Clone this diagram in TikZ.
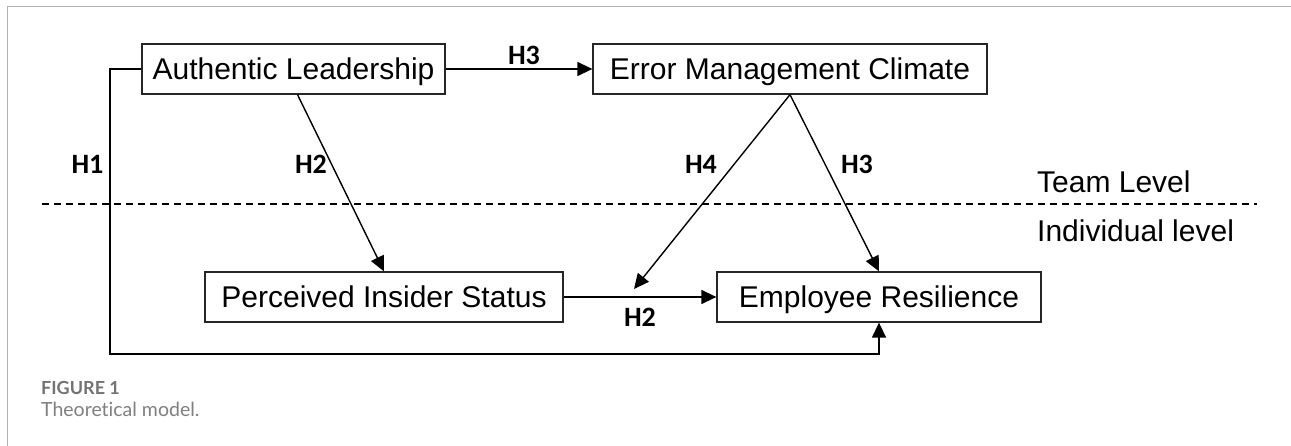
\documentclass[tikz,border=0pt]{standalone}
\usepackage{fontspec}
\setmainfont{Liberation Sans}
\newfontfamily\hfont{Carlito}
\newfontfamily\capfont[Ligatures=NoCommon]{Lato}
\usetikzlibrary{arrows.meta}
\begin{document}
\begin{tikzpicture}[x=1pt,y=-1pt,
  box/.style={draw=black!85, line width=1.3pt, minimum height=50pt, inner sep=0pt, text height=21.5pt, text depth=0pt, font=\fontsize{30}{36}\selectfont},
  arr/.style={line width=1.4pt, -{Triangle[length=15pt,width=14pt]}},
  hlab/.style={font=\hfont\bfseries\fontsize{28}{33}\selectfont, inner sep=0pt},
  lvl/.style={font=\fontsize{30}{36}\selectfont, inner sep=0pt, anchor=base west},
  frame/.style={draw=black!30, line width=1pt}]
\useasboundingbox (0,0) rectangle (1291,446);
\fill[white] (0,0) rectangle (1291,446);
\draw[frame] (7,446) -- (7,7) -- (1291,7);

\node[box, minimum width=303pt] (al) at (293.5,69) {Authentic Leadership};
\node[box, minimum width=394pt] (emc) at (790,69) {Error Management Climate};
\node[box, minimum width=358pt] (pis) at (384,297) {Perceived Insider Status};
\node[box, minimum width=324pt] (er) at (879,297) {Employee Resilience};

\coordinate (h1c) at (110,354);
\coordinate (m) at (634,289);
\coordinate (dl) at (42,204);
\coordinate (dr) at (1257,204);

\draw[line width=1.3pt, dash pattern=on 7pt off 5pt] (dl) -- (dr);

\draw[arr] (al.east) -- (emc.west);
\draw[arr] ([xshift=4pt]al.south) -- (pis.north);
\draw[arr] (emc.south) -- (er.north);
\draw[arr] (emc.south) -- (m);
\draw[arr] (pis.east) -- (er.west);
\draw[arr] (al.west) -| (h1c) -| (er.south);

\node[hlab] (l1) at (87.5,164) {H1};
\node[hlab] (l2) at (311,164) {H2};
\node[hlab] (l3) at (524,55) {H3};
\node[hlab] (l4) at (701,164) {H4};
\node[hlab] (l5) at (857,164) {H3};
\node[hlab] (l6) at (640,317) {H2};

\node[lvl] (tl) at (1037,193) {Team Level};
\node[lvl] (il) at (1037,242) {Individual level};

\node[font=\capfont\bfseries\fontsize{18}{22}\selectfont, text=black!55, inner sep=0pt, anchor=base west] (c1) at (41,394) {FIGURE 1};
\node[font=\capfont\fontsize{19.5}{23}\selectfont, text=black!50, inner sep=0pt, anchor=base west] (c2) at (41,417) {Theoretical model.};
\end{tikzpicture}
\end{document}
